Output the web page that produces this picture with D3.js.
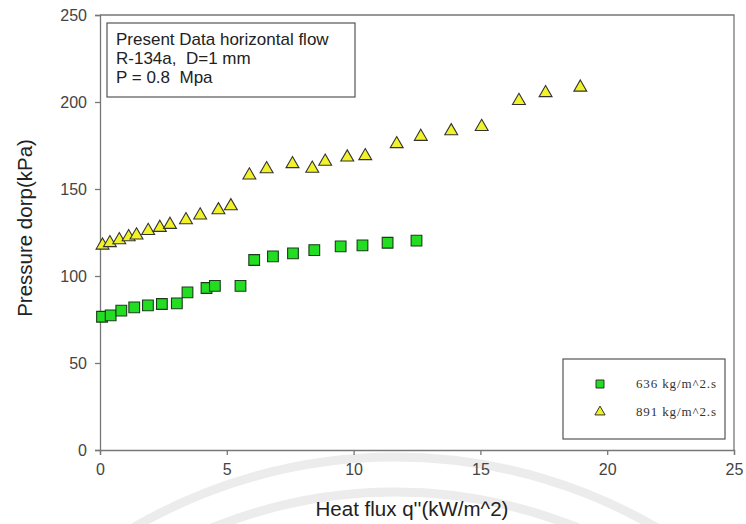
<!DOCTYPE html>
<html>
<head>
<meta charset="utf-8">
<script src="https://cdn.jsdelivr.net/npm/d3@7"></script>
<style>
  body { margin: 0; background: #fff; }
  svg { display: block; }
</style>
</head>
<body>
<script>
// data
var q636 = [0.08, 0.42, 0.84, 1.35, 1.89, 2.44, 3.03, 3.45, 4.2, 4.53, 5.54, 6.08, 6.82, 7.61, 8.45, 9.49, 10.35, 11.34, 12.48]
var dp636 = [76.6, 77.4, 80.1, 82.0, 83.1, 83.9, 84.3, 90.6, 93.1, 94.3, 94.3, 109.2, 111.3, 113.0, 114.9, 117.0, 117.6, 119.1, 120.3]

var q891 = [0.1, 0.39, 0.76, 1.13, 1.44, 1.9, 2.36, 2.76, 3.39, 3.95, 4.67, 5.16, 5.89, 6.57, 7.59, 8.37, 8.88, 9.75, 10.46, 11.7, 12.65, 13.85, 15.05, 16.52, 17.57, 18.94]
var dp891 = [117.6, 119, 120.7, 122.4, 123.4, 126, 127.8, 129.5, 132.2, 134.9, 137.9, 140.2, 157.9, 161.5, 164.4, 161.8, 165.8, 168.2, 169, 175.9, 180.1, 183.3, 185.8, 200.7, 205.2, 208.4]

var xTicks = [0, 5, 10, 15, 20, 25]
var yTicks = [0, 50, 100, 150, 200, 250]
var legendLabels = ["636 kg/m^2.s", "891 kg/m^2.s"]
var infoLines = ["Present Data horizontal flow", "R-134a,  D=1 mm", "P = 0.8  Mpa"]

var width = 746
var height = 524
var mLeft = 100, mRight = 734, mTop = 15, mBottom = 450

var svg = d3.select("body").append("svg")
    .attr("width", width)
    .attr("height", height)

// faint watermark arcs at the bottom
var wm = svg.append("g")
wm.append("circle").attr("cx", 395).attr("cy", 976).attr("r", 519)
    .attr("fill", "none").attr("stroke", "#ececec").attr("stroke-width", 9)
wm.append("circle").attr("cx", 395).attr("cy", 976).attr("r", 484)
    .attr("fill", "none").attr("stroke", "#ececec").attr("stroke-width", 9)

var x = d3.scaleLinear().domain([0, 25]).range([mLeft, mRight])
var y = d3.scaleLinear().domain([0, 250]).range([mBottom, mTop])

// frame (top and right lines)
svg.append("path")
    .attr("d", "M" + mLeft + "," + mTop + "H" + mRight + "V" + mBottom)
    .attr("fill", "none").attr("stroke", "#777").attr("stroke-width", 1.3)

var xAxis = svg.append("g")
    .attr("transform", "translate(0," + mBottom + ")")
    .call(d3.axisBottom(x).tickValues(xTicks).tickSize(5).tickPadding(9))
var yAxis = svg.append("g")
    .attr("transform", "translate(" + mLeft + ",0)")
    .call(d3.axisLeft(y).tickValues(yTicks).tickSize(5).tickPadding(8))

;[xAxis, yAxis].forEach(function(a) {
    a.select(".domain").attr("stroke", "#777").attr("stroke-width", 1.3)
    a.selectAll(".tick line").attr("stroke", "#777").attr("stroke-width", 1.3)
    a.selectAll(".tick text")
        .attr("fill", "#444")
        .style("font-family", "Arial, 'Liberation Sans', sans-serif")
        .style("font-size", "16px")
})

// axis titles
svg.append("text")
    .attr("x", 412)
    .attr("y", 516)
    .attr("text-anchor", "middle")
    .style("font-family", "Arial, 'Liberation Sans', sans-serif")
    .style("font-size", "20.5px")
    .attr("fill", "#222")
    .text("Heat flux q''(kW/m^2)")

svg.append("text")
    .attr("transform", "translate(32," + 228 + ") rotate(-90)")
    .attr("text-anchor", "middle")
    .style("font-family", "Arial, 'Liberation Sans', sans-serif")
    .style("font-size", "20.5px")
    .attr("fill", "#222")
    .text("Pressure dorp(kPa)")

// info box
svg.append("rect")
    .attr("x", 107).attr("y", 23).attr("width", 248).attr("height", 74)
    .attr("fill", "#fff").attr("stroke", "#555").attr("stroke-width", 1.2)
svg.selectAll(".info").data(infoLines).enter()
    .append("text")
    .attr("class", "info")
    .attr("x", 116)
    .attr("y", function(d, i) { return 45 + i * 19 })
    .style("font-family", "Arial, 'Liberation Sans', sans-serif")
    .style("font-size", "17px")
    .style("white-space", "pre")
    .attr("fill", "#222")
    .text(function(d) { return d })

var square = d3.symbol().type(d3.symbolSquare).size(115)
var triangle = d3.symbol().type(d3.symbolTriangle).size(72)

svg.selectAll(".s636").data(q636).enter()
    .append("path")
    .attr("class", "s636")
    .attr("d", square)
    .attr("transform", function(d, i) { return "translate(" + x(d) + "," + y(dp636[i]) + ")" })
    .attr("fill", "#22dd22").attr("stroke", "#1a3a1a").attr("stroke-width", 1.1)

svg.selectAll(".s891").data(q891).enter()
    .append("path")
    .attr("class", "s891")
    .attr("d", triangle)
    .attr("transform", function(d, i) { return "translate(" + x(d) + "," + y(dp891[i]) + ")" })
    .attr("fill", "#f2f22a").attr("stroke", "#333").attr("stroke-width", 1.1)

// legend
svg.append("rect")
    .attr("x", 563).attr("y", 359).attr("width", 162).attr("height", 80)
    .attr("fill", "#fff").attr("stroke", "#555").attr("stroke-width", 1.2)

var legSym = [d3.symbol().type(d3.symbolSquare).size(64)(), d3.symbol().type(d3.symbolTriangle).size(45)()]
var legFill = ["#22dd22", "#f2f22a"]
var leg = svg.selectAll(".leg").data(legendLabels).enter()
    .append("g")
    .attr("class", "leg")
    .attr("transform", function(d, i) { return "translate(600," + (384 + i * 28) + ")" })
leg.append("path")
    .attr("d", function(d, i) { return legSym[i] })
    .attr("fill", function(d, i) { return legFill[i] })
    .attr("stroke", "#333").attr("stroke-width", 1)
leg.append("text")
    .attr("x", 36)
    .attr("y", 4)
    .attr("textLength", 80)
    .attr("lengthAdjust", "spacing")
    .style("font-family", "'Liberation Serif', 'Times New Roman', serif")
    .style("font-size", "13px")
    .attr("fill", "#333")
    .text(function(d) { return d })
</script>
</body>
</html>
